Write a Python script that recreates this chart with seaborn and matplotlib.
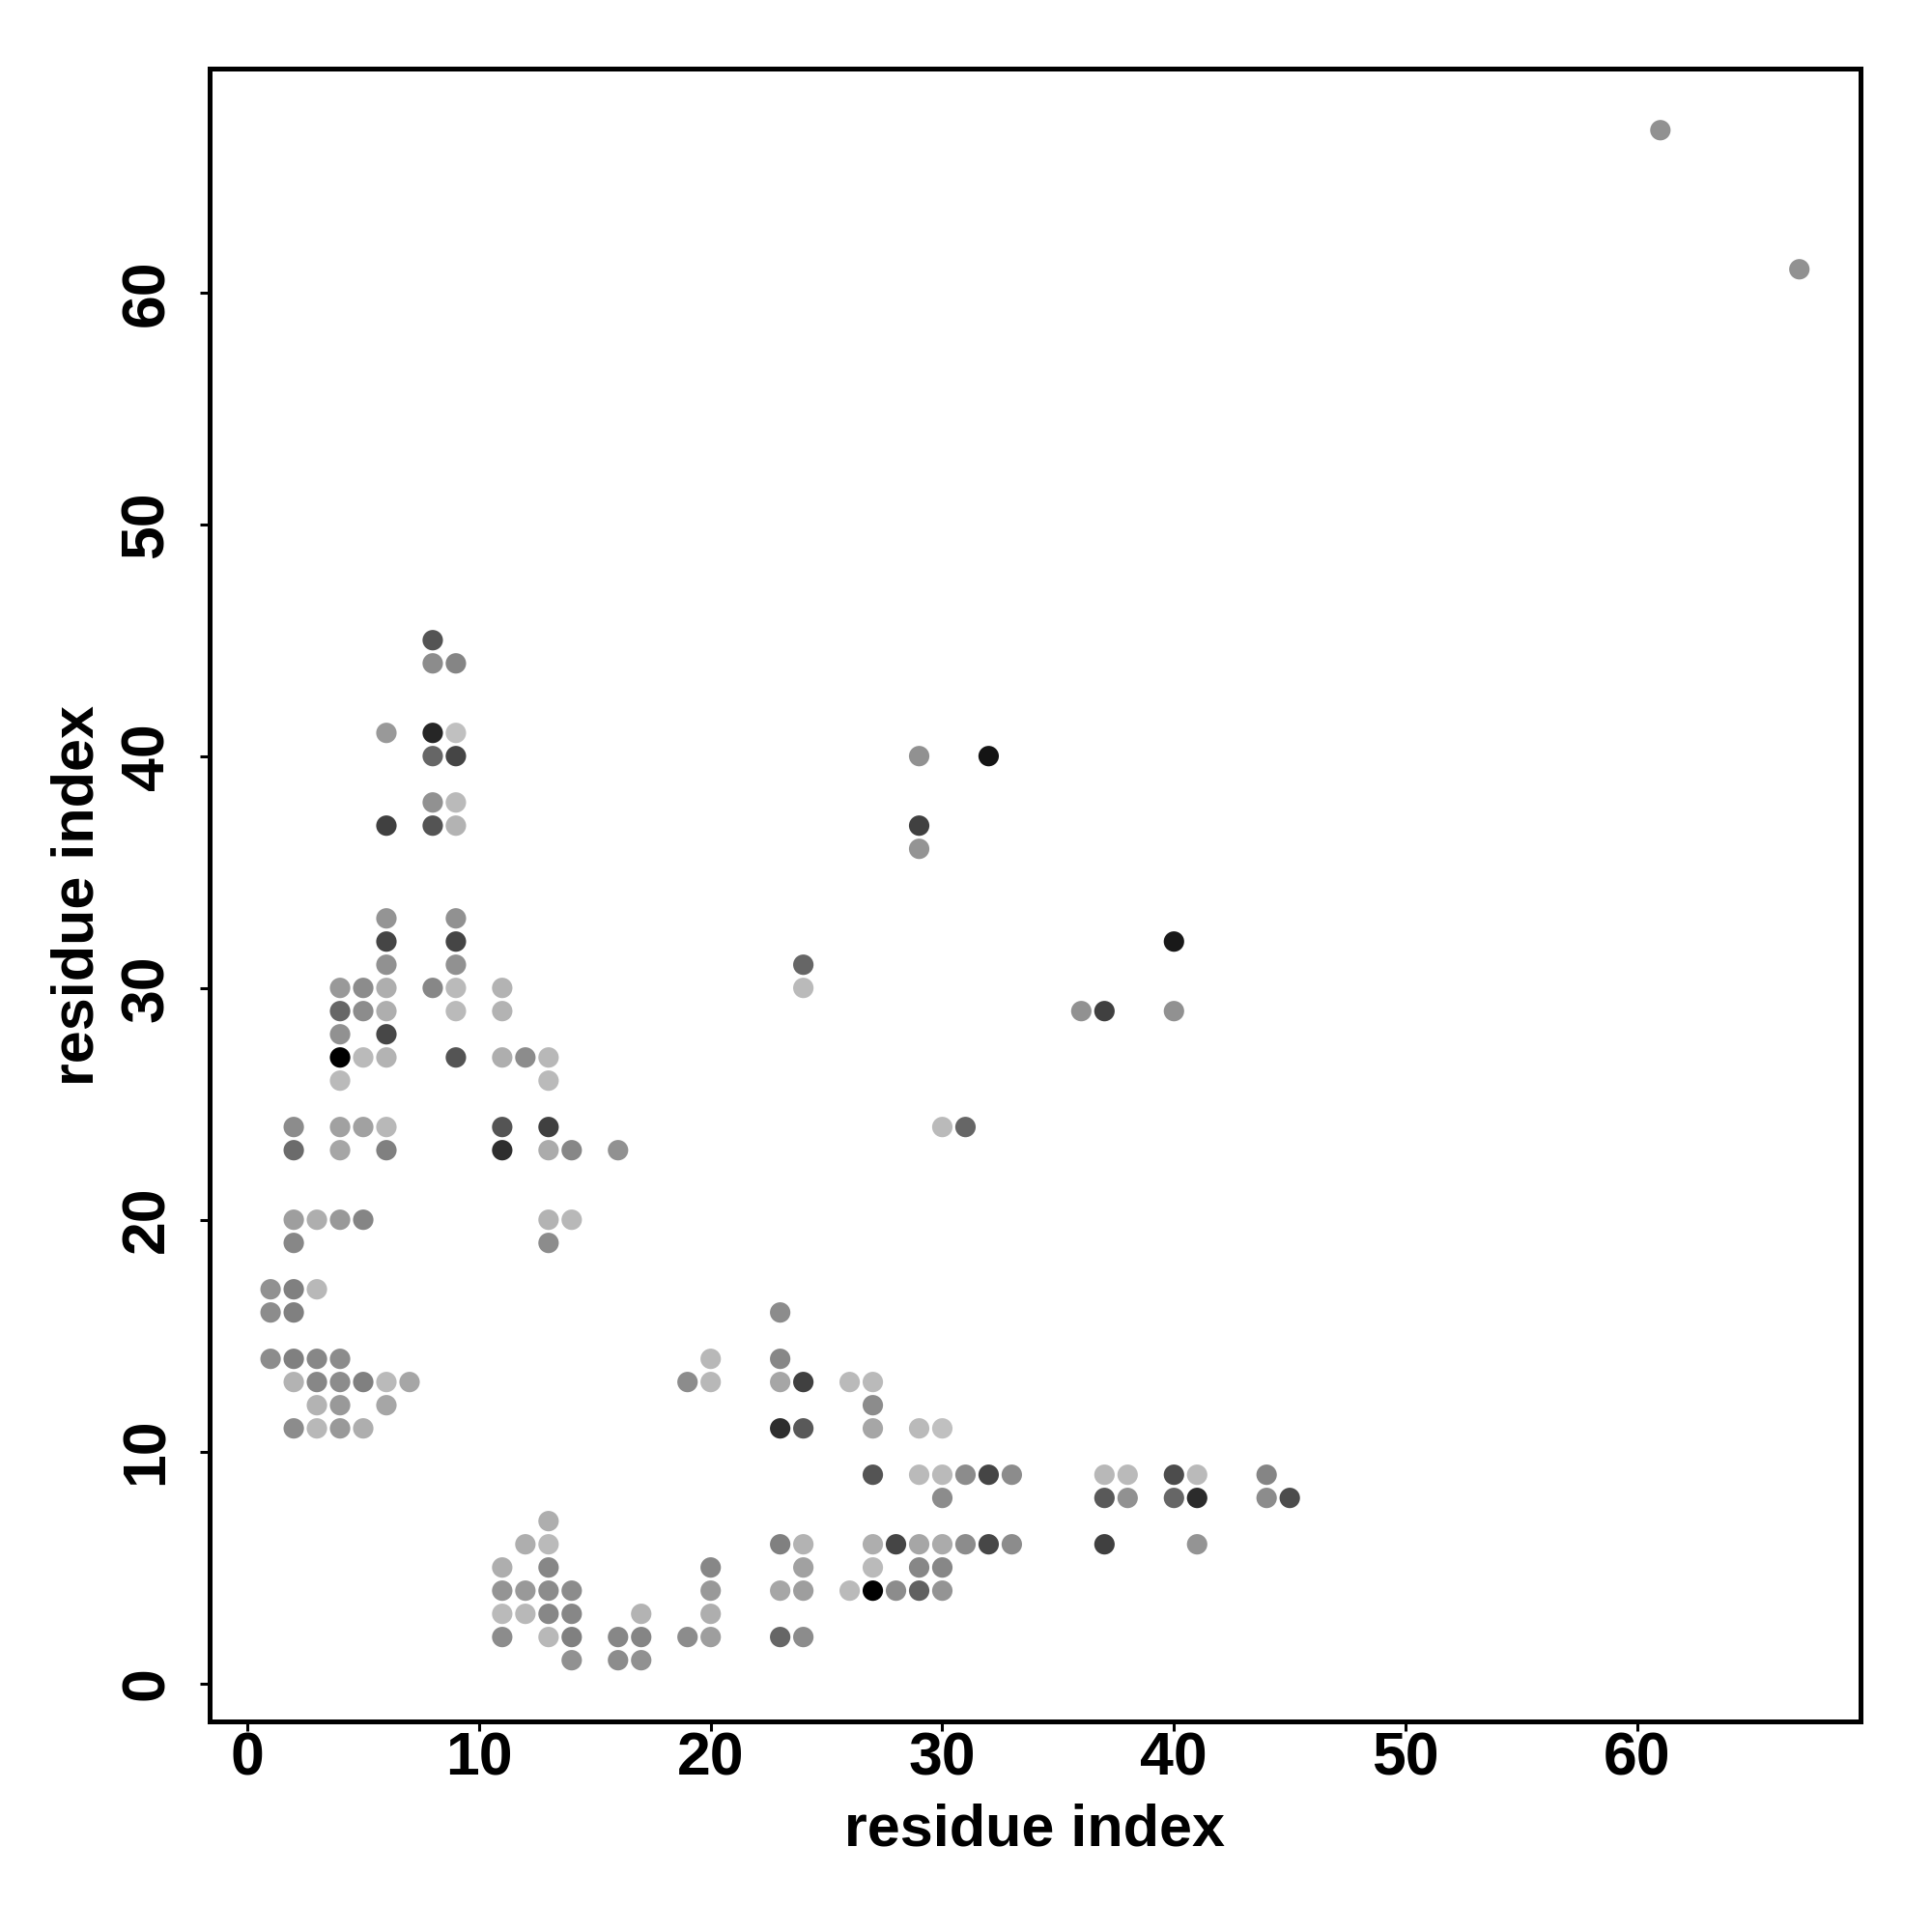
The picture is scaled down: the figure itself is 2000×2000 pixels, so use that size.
import numpy as np
import pandas as pd
import matplotlib
matplotlib.use("Agg")
import matplotlib.pyplot as plt
import seaborn as sns

# contact pairs (residue i, residue j) and grey level (0 = black, 1 = white)
res_i = [61, 67,
         8, 8, 9,
         6, 8, 9,
         8, 9,
         8, 9,
         6, 8, 9,
         6, 9,
         6, 9,
         6, 9,
         4, 5, 6, 8, 9, 11,
         4, 5, 6, 9, 11,
         4, 6,
         4, 5, 6, 9, 11, 12, 13,
         4, 13,
         2, 4, 5, 6, 11, 13,
         2, 4, 6, 11, 13, 14, 16,
         2, 3, 4, 5, 13, 14,
         2, 13,
         1, 2, 3,
         1, 2,
         1, 2, 3, 4,
         2, 3, 4, 5, 6, 7,
         3, 4, 6,
         2, 3, 4, 5,
         11, 12, 13, 13, 13,
         11, 12, 13, 14,
         11, 12, 13, 14,
         11, 13, 14,
         14, 16, 17, 16, 17, 17,
         23, 20, 23,
         19, 20, 23, 24, 26, 27,
         27,
         23, 24, 27, 29, 30,
         27, 29, 30, 31, 32, 33,
         30,
         23, 24, 27, 28, 29, 30, 31, 32, 33,
         20, 24, 27, 29, 30,
         20, 23, 24, 26, 27, 28, 29, 30,
         20,
         19, 20, 23, 24,
         37, 38, 40, 41, 44,
         37, 38, 40, 41, 44, 45,
         37, 41,
         29, 32, 29, 29, 40, 24, 24,
         36, 37, 40, 30, 31]

res_j = [67, 61,
         45, 44, 44,
         41, 41, 41,
         40, 40,
         38, 38,
         37, 37, 37,
         33, 33,
         32, 32,
         31, 31,
         30, 30, 30, 30, 30, 30,
         29, 29, 29, 29, 29,
         28, 28,
         27, 27, 27, 27, 27, 27, 27,
         26, 26,
         24, 24, 24, 24, 24, 24,
         23, 23, 23, 23, 23, 23, 23,
         20, 20, 20, 20, 20, 20,
         19, 19,
         17, 17, 17,
         16, 16,
         14, 14, 14, 14,
         13, 13, 13, 13, 13, 13,
         12, 12, 12,
         11, 11, 11, 11,
         5, 6, 7, 6, 5,
         4, 4, 4, 4,
         3, 3, 3, 3,
         2, 2, 2,
         1, 1, 1, 2, 2, 3,
         16, 14, 14,
         13, 13, 13, 13, 13, 13,
         12,
         11, 11, 11, 11, 11,
         9, 9, 9, 9, 9, 9,
         8,
         6, 6, 6, 6, 6, 6, 6, 6, 6,
         5, 5, 5, 5, 5,
         4, 4, 4, 4, 4, 4, 4, 4,
         3,
         2, 2, 2, 2,
         9, 9, 9, 9, 9,
         8, 8, 8, 8, 8, 8,
         6, 6,
         40, 40, 37, 36, 32, 31, 30,
         29, 29, 29, 24, 24]

shade = [0.57, 0.57,
         0.33, 0.55, 0.52,
         0.60, 0.15, 0.75,
         0.40, 0.27,
         0.57, 0.73,
         0.25, 0.33, 0.70,
         0.58, 0.57,
         0.27, 0.27,
         0.57, 0.57,
         0.60, 0.55, 0.68, 0.53, 0.73, 0.70,
         0.40, 0.55, 0.68, 0.73, 0.70,
         0.57, 0.28,
         0.00, 0.73, 0.70, 0.33, 0.68, 0.55, 0.72,
         0.73, 0.73,
         0.55, 0.63, 0.63, 0.72, 0.33, 0.25,
         0.42, 0.65, 0.50, 0.18, 0.67, 0.53, 0.57,
         0.62, 0.68, 0.60, 0.52, 0.70, 0.72,
         0.53, 0.55,
         0.57, 0.50, 0.72,
         0.55, 0.50,
         0.55, 0.50, 0.53, 0.55,
         0.70, 0.53, 0.55, 0.50, 0.73, 0.65,
         0.70, 0.60, 0.65,
         0.55, 0.72, 0.60, 0.68,
         0.68, 0.68, 0.68, 0.73, 0.53,
         0.58, 0.60, 0.55, 0.55,
         0.73, 0.72, 0.53, 0.53,
         0.55, 0.72, 0.50,
         0.57, 0.55, 0.57, 0.53, 0.52, 0.70,
         0.55, 0.72, 0.53,
         0.55, 0.72, 0.65, 0.25, 0.73, 0.73,
         0.55,
         0.18, 0.35, 0.65, 0.73, 0.75,
         0.33, 0.73, 0.73, 0.55, 0.27, 0.55,
         0.55,
         0.50, 0.70, 0.68, 0.27, 0.65, 0.67, 0.55, 0.28, 0.55,
         0.53, 0.63, 0.73, 0.53, 0.53,
         0.60, 0.65, 0.62, 0.73, 0.00, 0.55, 0.38, 0.58,
         0.68,
         0.55, 0.62, 0.40, 0.55,
         0.72, 0.73, 0.30, 0.73, 0.52,
         0.35, 0.57, 0.40, 0.17, 0.55, 0.30,
         0.25, 0.58,
         0.57, 0.08, 0.25, 0.58, 0.10, 0.40, 0.73,
         0.57, 0.25, 0.57, 0.73, 0.40]

df = pd.DataFrame({"i": res_i, "j": res_j, "shade": shade})

sns.set_style("white")
plt.rcParams["font.family"] = ["Liberation Sans", "DejaVu Sans"]
plt.rcParams["font.weight"] = "bold"
for key in ["text.color", "axes.labelcolor", "xtick.color", "ytick.color"]:
    plt.rcParams[key] = "black"

fig = plt.figure(figsize=(10, 10), dpi=200)
ax = fig.add_axes([0.1084, 0.109, 0.8546, 0.8553])

sns.scatterplot(data=df, x="i", y="j", hue="shade", palette="gray",
                hue_norm=(0, 1), s=58, linewidth=0, legend=False, ax=ax)

# R-style 4% padding around the data range
lo = min(df["i"].min(), df["j"].min())
hi = max(df["i"].max(), df["j"].max())
pad = 0.04 * (hi - lo)
ax.set_xlim(lo - pad, hi + pad)
ax.set_ylim(lo - pad, hi + pad)

ticks = [0, 10, 20, 30, 40, 50, 60]
ax.set_xticks(ticks)
ax.set_yticks(ticks)
ax.set_xticklabels([str(t) for t in ticks], fontsize=22.5, fontweight="bold")
ax.set_yticklabels([str(t) for t in ticks], fontsize=22.5, fontweight="bold",
                   rotation=90, va="center")
ax.tick_params(direction="out", length=3.5, width=1.1, color="black",
               left=True, bottom=True)
ax.tick_params(axis="x", pad=0)
ax.tick_params(axis="y", pad=9)

for sp in ax.spines.values():
    sp.set_visible(True)
    sp.set_color("black")
    sp.set_linewidth(1.8)

ax.set_xlabel("residue index", fontsize=22, fontweight="bold", labelpad=5.8)
ax.set_ylabel("residue index", fontsize=22, fontweight="bold", labelpad=5)

fig.savefig("out.png", dpi=200, facecolor="white")
plt.close(fig)
